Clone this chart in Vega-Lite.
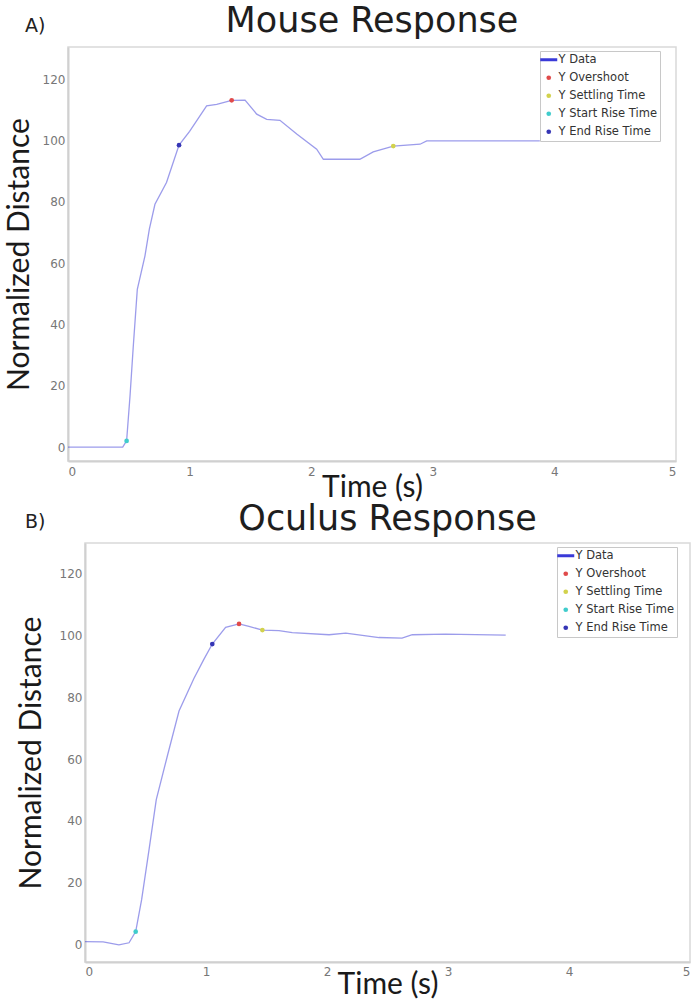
{
  "$schema": "https://vega.github.io/schema/vega-lite/v6.json",
  "padding": {"left": 0, "top": 3, "right": 0, "bottom": 0},
  "background": "white",
  "datasets": {
    "mouseLine": [
      {"t": 0, "y": 0, "series": "Y Data"},
      {"t": 0.45, "y": 0, "series": "Y Data"},
      {"t": 0.482, "y": 2.05, "series": "Y Data"},
      {"t": 0.51, "y": 16.7, "series": "Y Data"},
      {"t": 0.537, "y": 33, "series": "Y Data"},
      {"t": 0.57, "y": 51.5, "series": "Y Data"},
      {"t": 0.633, "y": 62.4, "series": "Y Data"},
      {"t": 0.669, "y": 71.1, "series": "Y Data"},
      {"t": 0.715, "y": 79.2, "series": "Y Data"},
      {"t": 0.81, "y": 86.3, "series": "Y Data"},
      {"t": 0.913, "y": 98.5, "series": "Y Data"},
      {"t": 1.0, "y": 103, "series": "Y Data"},
      {"t": 1.14, "y": 111.3, "series": "Y Data"},
      {"t": 1.223, "y": 111.8, "series": "Y Data"},
      {"t": 1.346, "y": 113.1, "series": "Y Data"},
      {"t": 1.456, "y": 113.2, "series": "Y Data"},
      {"t": 1.552, "y": 108.6, "series": "Y Data"},
      {"t": 1.634, "y": 106.9, "series": "Y Data"},
      {"t": 1.743, "y": 106.6, "series": "Y Data"},
      {"t": 1.881, "y": 102.1, "series": "Y Data"},
      {"t": 2.045, "y": 97.2, "series": "Y Data"},
      {"t": 2.1, "y": 93.9, "series": "Y Data"},
      {"t": 2.4, "y": 93.9, "series": "Y Data"},
      {"t": 2.51, "y": 96.3, "series": "Y Data"},
      {"t": 2.675, "y": 98.2, "series": "Y Data"},
      {"t": 2.895, "y": 98.8, "series": "Y Data"},
      {"t": 2.95, "y": 99.9, "series": "Y Data"},
      {"t": 3.88, "y": 99.9, "series": "Y Data"}
    ],
    "mouseMarks": [
      {"t": 1.346, "y": 113.1, "series": "Y Overshoot"},
      {"t": 2.675, "y": 98.2, "series": "Y Settling Time"},
      {"t": 0.482, "y": 2.05, "series": "Y Start Rise Time"},
      {"t": 0.913, "y": 98.5, "series": "Y End Rise Time"}
    ],
    "oculusLine": [
      {"t": 0, "y": 1.1, "series": "Y Data"},
      {"t": 0.15, "y": 1.0, "series": "Y Data"},
      {"t": 0.28, "y": 0, "series": "Y Data"},
      {"t": 0.364, "y": 0.7, "series": "Y Data"},
      {"t": 0.419, "y": 4.3, "series": "Y Data"},
      {"t": 0.468, "y": 14.6, "series": "Y Data"},
      {"t": 0.529, "y": 30.7, "series": "Y Data"},
      {"t": 0.589, "y": 46.9, "series": "Y Data"},
      {"t": 0.68, "y": 60.9, "series": "Y Data"},
      {"t": 0.777, "y": 75.5, "series": "Y Data"},
      {"t": 0.9, "y": 86, "series": "Y Data"},
      {"t": 0.98, "y": 92, "series": "Y Data"},
      {"t": 1.052, "y": 97.1, "series": "Y Data"},
      {"t": 1.162, "y": 102.5, "series": "Y Data"},
      {"t": 1.273, "y": 103.6, "series": "Y Data"},
      {"t": 1.355, "y": 102.8, "series": "Y Data"},
      {"t": 1.466, "y": 101.6, "series": "Y Data"},
      {"t": 1.603, "y": 101.4, "series": "Y Data"},
      {"t": 1.713, "y": 100.8, "series": "Y Data"},
      {"t": 2.017, "y": 100.1, "series": "Y Data"},
      {"t": 2.155, "y": 100.6, "series": "Y Data"},
      {"t": 2.43, "y": 99.2, "series": "Y Data"},
      {"t": 2.62, "y": 99.0, "series": "Y Data"},
      {"t": 2.705, "y": 100.1, "series": "Y Data"},
      {"t": 2.98, "y": 100.3, "series": "Y Data"},
      {"t": 3.477, "y": 100.0, "series": "Y Data"}
    ],
    "oculusMarks": [
      {"t": 1.273, "y": 103.6, "series": "Y Overshoot"},
      {"t": 1.466, "y": 101.6, "series": "Y Settling Time"},
      {"t": 0.419, "y": 4.3, "series": "Y Start Rise Time"},
      {"t": 1.052, "y": 97.1, "series": "Y End Rise Time"}
    ]
  },
  "spacing": -2,
  "resolve": {"scale": {"x": "independent", "y": "independent", "color": "independent"}},
  "vconcat": [
    {
      "bounds": "flush",
      "spacing": 0,
      "resolve": {"scale": {"x": "independent", "y": "independent", "color": "independent"}},
      "hconcat": [
        {
          "width": 68, "height": 414,
          "view": {"stroke": null},
          "title": {"text": "A)", "anchor": "start", "frame": "group", "dx": 25, "offset": -4, "baseline": "alphabetic", "fontSize": 19, "fontWeight": "normal", "font": "DejaVu Sans", "color": "#222222"},
          "data": {"values": [{"k": ""}]},
          "mark": {"type": "text"},
          "encoding": {"text": {"field": "k"}}
        },
        {
          "width": 608, "height": 414,
          "title": {"text": "Mouse Response", "anchor": "middle", "frame": "group", "offset": -20, "baseline": "alphabetic", "fontSize": 35, "fontWeight": "normal", "font": "DejaVu Sans", "color": "#1e1e1e"},
          "layer": [
            {
              "data": {"name": "mouseLine"},
              "mark": {"type": "line", "strokeWidth": 1.3, "opacity": 0.5},
              "encoding": {
                "x": {"field": "t", "type": "quantitative", "scale": {"domain": [0, 5], "nice": false, "zero": false},
                  "axis": {"values": [0, 1, 2, 3, 4, 5], "format": "d", "title": "Time (s)", "titlePadding": -5, "labelPadding": 5}},
                "y": {"field": "y", "type": "quantitative", "scale": {"domain": [-4.5, 130.5], "nice": false, "zero": false},
                  "axis": {"values": [0, 20, 40, 60, 80, 100, 120], "format": "d", "title": "Normalized Distance", "titlePadding": 8, "labelPadding": 3}},
                "color": {"field": "series", "type": "nominal",
                  "scale": {"domain": ["Y Data", "Y Overshoot", "Y Settling Time", "Y Start Rise Time", "Y End Rise Time"], "range": ["#3a3ad8", "#e04a4a", "#d2d24c", "#40cccc", "#3535b5"]},
                  "legend": {"title": null, "orient": "none", "legendX": 472, "legendY": 4, "direction": "vertical", "strokeColor": "#c8c8c8", "fillColor": "#ffffff", "padding": 3, "symbolSize": 144, "symbolOpacity": 1, "labelFontSize": 11.5, "labelFont": "DejaVu Sans", "labelColor": "#333333", "labelOffset": 4, "rowPadding": 5,
                    "encode": {"symbols": {"update": {
                      "shape": {"signal": "datum.value === 'Y Data' ? 'stroke' : 'circle'"},
                      "size": {"signal": "datum.value === 'Y Data' ? 289 : 22"},
                      "stroke": {"signal": "datum.value === 'Y Data' ? '#3a3ad8' : 'transparent'"},
                      "strokeWidth": {"signal": "datum.value === 'Y Data' ? 3 : 0"},
                      "opacity": {"value": 1}
                    }}}
                  }
                }
              }
            },
            {
              "data": {"name": "mouseMarks"},
              "mark": {"type": "circle", "size": 22, "opacity": 1},
              "encoding": {
                "x": {"field": "t", "type": "quantitative"},
                "y": {"field": "y", "type": "quantitative"},
                "color": {"field": "series", "type": "nominal"}
              }
            }
          ]
        }
      ]
    },
    {
      "bounds": "flush",
      "spacing": 0,
      "resolve": {"scale": {"x": "independent", "y": "independent", "color": "independent"}},
      "hconcat": [
        {
          "width": 85, "height": 419,
          "view": {"stroke": null},
          "title": {"text": "B)", "anchor": "start", "frame": "group", "dx": 25, "offset": -4, "baseline": "alphabetic", "fontSize": 19, "fontWeight": "normal", "font": "DejaVu Sans", "color": "#222222"},
          "data": {"values": [{"k": ""}]},
          "mark": {"type": "text"},
          "encoding": {"text": {"field": "k"}}
        },
        {
          "width": 605, "height": 419,
          "title": {"text": "Oculus Response", "anchor": "middle", "frame": "group", "offset": -22, "baseline": "alphabetic", "fontSize": 35, "fontWeight": "normal", "font": "DejaVu Sans", "color": "#1e1e1e"},
          "layer": [
            {
              "data": {"name": "oculusLine"},
              "mark": {"type": "line", "strokeWidth": 1.3, "opacity": 0.5},
              "encoding": {
                "x": {"field": "t", "type": "quantitative", "scale": {"domain": [0, 5], "nice": false, "zero": false},
                  "axis": {"values": [0, 1, 2, 3, 4, 5], "format": "d", "title": "Time (s)", "titlePadding": -8, "labelPadding": 4}},
                "y": {"field": "y", "type": "quantitative", "scale": {"domain": [-5.5, 129.7], "nice": false, "zero": false},
                  "axis": {"values": [0, 20, 40, 60, 80, 100, 120], "format": "d", "title": "Normalized Distance", "titlePadding": 13, "labelPadding": 3}},
                "color": {"field": "series", "type": "nominal",
                  "scale": {"domain": ["Y Data", "Y Overshoot", "Y Settling Time", "Y Start Rise Time", "Y End Rise Time"], "range": ["#3a3ad8", "#e04a4a", "#d2d24c", "#40cccc", "#3535b5"]},
                  "legend": {"title": null, "orient": "none", "legendX": 472, "legendY": 4, "direction": "vertical", "strokeColor": "#c8c8c8", "fillColor": "#ffffff", "padding": 3, "symbolSize": 144, "symbolOpacity": 1, "labelFontSize": 11.5, "labelFont": "DejaVu Sans", "labelColor": "#333333", "labelOffset": 4, "rowPadding": 5,
                    "encode": {"symbols": {"update": {
                      "shape": {"signal": "datum.value === 'Y Data' ? 'stroke' : 'circle'"},
                      "size": {"signal": "datum.value === 'Y Data' ? 289 : 22"},
                      "stroke": {"signal": "datum.value === 'Y Data' ? '#3a3ad8' : 'transparent'"},
                      "strokeWidth": {"signal": "datum.value === 'Y Data' ? 3 : 0"},
                      "opacity": {"value": 1}
                    }}}
                  }
                }
              }
            },
            {
              "data": {"name": "oculusMarks"},
              "mark": {"type": "circle", "size": 22, "opacity": 1},
              "encoding": {
                "x": {"field": "t", "type": "quantitative"},
                "y": {"field": "y", "type": "quantitative"},
                "color": {"field": "series", "type": "nominal"}
              }
            }
          ]
        }
      ]
    }
  ],
  "config": {
    "view": {"stroke": "#d9d9d9", "strokeWidth": 1.5},
    "axis": {
      "grid": false, "ticks": false,
      "domainColor": "#d0d0d0", "domainWidth": 2,
      "labelFont": "DejaVu Sans", "labelFontSize": 12, "labelColor": "#777777",
      "titleFont": "Lato", "titleFontSize": 30, "titleFontWeight": "normal", "titleColor": "#1a1a1a"
    }
  }
}
